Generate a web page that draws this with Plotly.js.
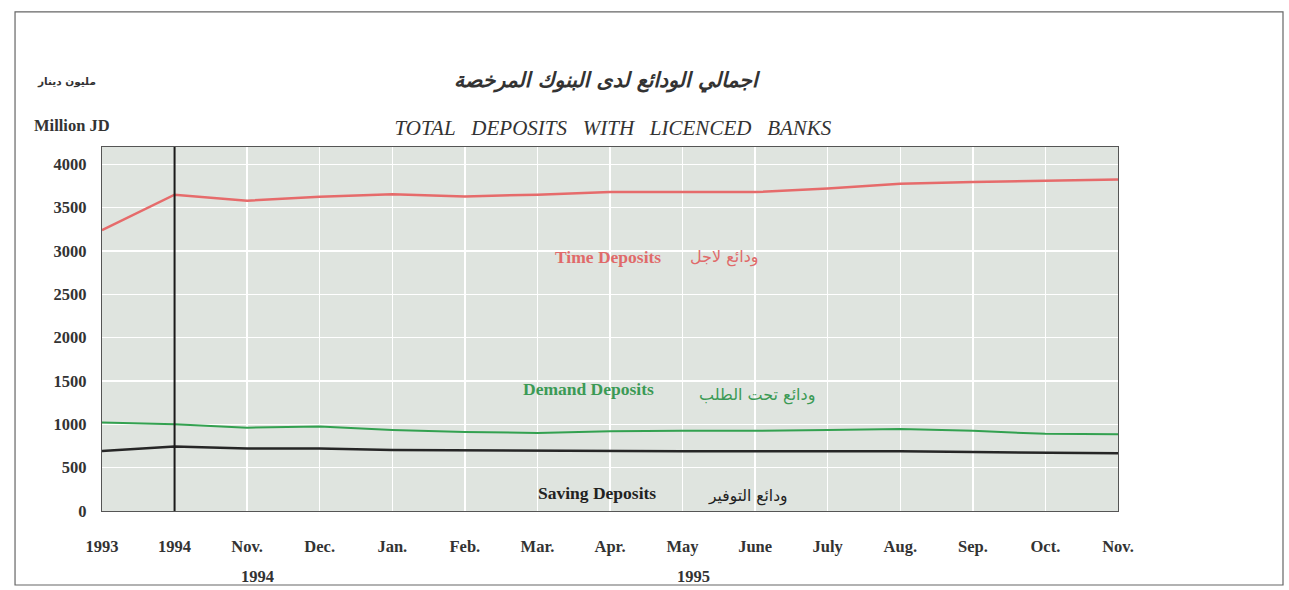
<!DOCTYPE html>
<html>
<head>
<meta charset="utf-8">
<script src="https://cdn.plot.ly/plotly-3.0.1.min.js"></script>
<style>html,body{margin:0;padding:0;background:#fff;}#chart{width:1289px;height:590px;}</style>
</head>
<body>
<div id="chart"></div>
<script>
const categories = ["1993","1994","Nov.","Dec.","Jan.","Feb.","Mar.","Apr.","May","June","July","Aug.","Sep.","Oct.","Nov."];
const timeDeposits    = [3240, 3650, 3580, 3625, 3655, 3630, 3650, 3680, 3680, 3680, 3720, 3775, 3795, 3810, 3825];
const demandDeposits  = [1020, 1000, 962, 975, 935, 912, 900, 920, 925, 925, 935, 945, 925, 890, 885];
const savingDeposits  = [692, 745, 722, 720, 705, 700, 695, 692, 690, 690, 690, 688, 680, 670, 665];
const yTicks = [0, 500, 1000, 1500, 2000, 2500, 3000, 3500, 4000];

const xIdx = categories.map((c, i) => i);
const serif = "Liberation Serif, Times New Roman, DejaVu Serif, DejaVu Sans, serif";
const arab = "DejaVu Sans, Noto Sans, serif";

const traces = [
  {x: xIdx, y: timeDeposits, type: 'scatter', mode: 'lines', line: {color: '#e66b6b', width: 2.5}, name: 'Time Deposits', hoverinfo: 'y'},
  {x: xIdx, y: demandDeposits, type: 'scatter', mode: 'lines', line: {color: '#33a150', width: 2}, name: 'Demand Deposits', hoverinfo: 'y'},
  {x: xIdx, y: savingDeposits, type: 'scatter', mode: 'lines', line: {color: '#262626', width: 2.5}, name: 'Saving Deposits', hoverinfo: 'y'}
];

function ann(text, x, y, font, ref) {
  return {text: text, xref: ref || 'paper', yref: ref ? 'y' : 'paper', x: x, y: y, showarrow: false,
          xanchor: 'center', yanchor: 'middle', font: font};
}

const layout = {
  width: 1289, height: 590,
  margin: {l: 102, r: 171, t: 147, b: 79},
  paper_bgcolor: '#ffffff',
  plot_bgcolor: '#dfe4df',
  showlegend: false,
  title: {text: 'TOTAL&nbsp;&nbsp; DEPOSITS&nbsp;&nbsp; WITH&nbsp;&nbsp; LICENCED&nbsp;&nbsp; BANKS', x: 0.4755, xanchor: 'center', y: 0.783, yanchor: 'middle',
          font: {family: serif, size: 21, color: '#333', style: 'italic'}},
  xaxis: {
    range: [0, 14], tickvals: xIdx, ticktext: categories,
    showgrid: true, gridcolor: '#ffffff', gridwidth: 1.5,
    zeroline: false, showline: true, linecolor: '#555', linewidth: 1.2, mirror: true,
    ticks: '', ticklabelstandoff: 20,
    tickfont: {family: serif, size: 16.5, color: '#333', weight: 'bold'}
  },
  yaxis: {
    range: [0, 4200], tickvals: yTicks, ticktext: yTicks.map(String),
    showgrid: true, gridcolor: '#ffffff', gridwidth: 1.5,
    zeroline: false, showline: true, linecolor: '#555', linewidth: 1.2, mirror: true,
    ticks: '', ticklabelstandoff: 11,
    tickfont: {family: serif, size: 16.5, color: '#333', weight: 'bold'}
  },
  shapes: [
    {type: 'line', xref: 'x', yref: 'paper', x0: 1, x1: 1, y0: 0, y1: 1, line: {color: '#1a1a1a', width: 2}},
    {type: 'rect', xref: 'paper', yref: 'paper', x0: -0.0856, x1: 1.1624, y0: -0.2033, y1: 1.371, line: {color: '#666', width: 1.2}}
  ],
  annotations: [
    ann('اجمالي الودائع لدى البنوك المرخصة', 0.498, 1.184, {family: arab, size: 20.5, color: '#333', weight: 'bold', style: 'italic'}),
    ann('مليون دينار', -0.0354, 1.1786, {family: arab, size: 10.5, color: '#333', weight: 'bold'}),
    ann('Million JD', -0.0295, 1.0604, {family: serif, size: 16.5, color: '#333', weight: 'bold'}),
    ann('1994', 0.1535, -0.1786, {family: serif, size: 16.5, color: '#333', weight: 'bold'}),
    ann('1995', 0.5817, -0.1786, {family: serif, size: 16.5, color: '#333', weight: 'bold'}),
    ann('Time Deposits', 6.97, 2931, {family: serif, size: 17.5, color: '#e06a6a', weight: 'bold'}, 'x'),
    ann('ودائع لاجل', 8.57, 2931, {family: arab, size: 16, color: '#e06a6a'}, 'x'),
    ann('Demand Deposits', 6.71, 1408, {family: serif, size: 17.5, color: '#3b9a55', weight: 'bold'}, 'x'),
    ann('ودائع تحت الطلب', 9.03, 1338, {family: arab, size: 16, color: '#3b9a55'}, 'x'),
    ann('Saving Deposits', 6.82, 208, {family: serif, size: 17.5, color: '#222', weight: 'bold'}, 'x'),
    ann('ودائع التوفير', 8.9, 173, {family: arab, size: 15.5, color: '#222'}, 'x')
  ]
};

Plotly.newPlot('chart', traces, layout, {displayModeBar: false, staticPlot: true});
</script>
</body>
</html>
